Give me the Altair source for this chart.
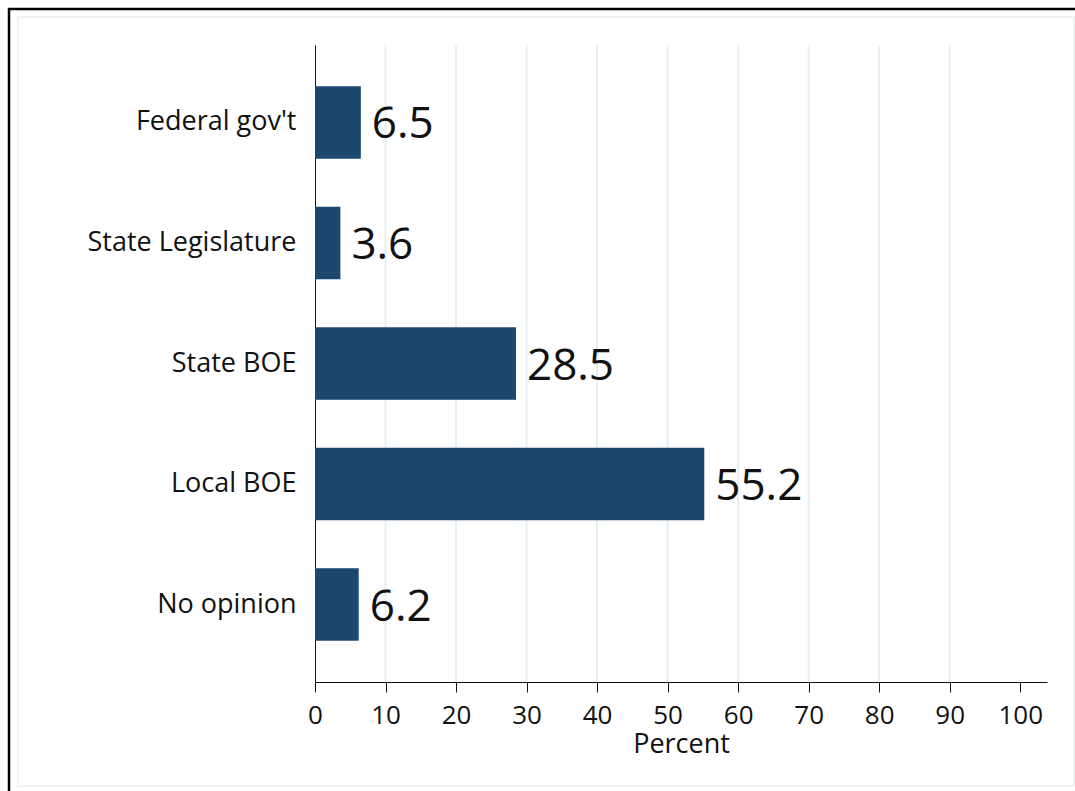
import altair as alt
import pandas as pd

categories = ["Federal gov't", "State Legislature", "State BOE", "Local BOE", "No opinion"]
values = [6.5, 3.6, 28.5, 55.2, 6.2]
tick_values = [0, 10, 20, 30, 40, 50, 60, 70, 80, 90, 100]
grid_values = [10, 20, 30, 40, 50, 60, 70, 80, 90]

df = pd.DataFrame({"cat": categories, "val": values, "lab": [f"{v:.1f}" for v in values]})
grid_df = pd.DataFrame({"g": grid_values})

W, H = 732, 637
FONT = "Open Sans"
BAR = "#1c4870"

xscale = alt.Scale(domain=[0, 103.8], nice=False, zero=True)
yscale = alt.Scale(domain=categories, paddingInner=0.4, paddingOuter=0.343)

frame_outer = alt.Chart(pd.DataFrame({"a": [0]})).mark_rect(
    fill=None, stroke="#000000", strokeWidth=2.5, clip=False
).encode(x=alt.value(-306), x2=alt.value(780), y=alt.value(-36), y2=alt.value(760))

frame_inner = alt.Chart(pd.DataFrame({"a": [0]})).mark_rect(
    fill=None, stroke="#e8f0f0", strokeWidth=1.5, clip=False
).encode(x=alt.value(-297), x2=alt.value(759), y=alt.value(-28), y2=alt.value(741))

grid = alt.Chart(grid_df).mark_rule(color="#e6eff1", strokeWidth=2).encode(
    x=alt.X("g:Q", scale=xscale)
)

bars = alt.Chart(df).mark_bar(color=BAR).encode(
    x=alt.X("val:Q", scale=xscale,
            axis=alt.Axis(values=tick_values, title="Percent", grid=False,
                          labelFont=FONT, labelFontSize=26, labelColor="#111111",
                          titleFont=FONT, titleFontSize=27, titleFontWeight="normal",
                          titleColor="#111111", titlePadding=3,
                          tickSize=10, tickColor="#111111", domainColor="#111111",
                          labelPadding=10, labelFlush=False)),
    y=alt.Y("cat:N", scale=yscale, sort=categories,
            axis=alt.Axis(title=None, ticks=False, labelFont=FONT, labelFontSize=27,
                          labelColor="#111111", labelPadding=19, domainColor="#111111",
                          labelLimit=400)),
)

labels = alt.Chart(df).mark_text(
    align="left", baseline="middle", dx=11, dy=3, font=FONT, fontSize=44, color="#111111"
).encode(
    x=alt.X("val:Q", scale=xscale),
    y=alt.Y("cat:N", scale=yscale, sort=categories),
    text="lab:N",
)

chart = alt.layer(frame_outer, frame_inner, grid, bars, labels).properties(
    width=W, height=H,
    autosize=alt.AutoSizeParams(type="none"),
    padding={"left": 315, "top": 45, "right": 28, "bottom": 109},
    background="white",
).configure_view(stroke=None)

chart.save("out.html", embed_options={"renderer": "svg", "actions": False})
